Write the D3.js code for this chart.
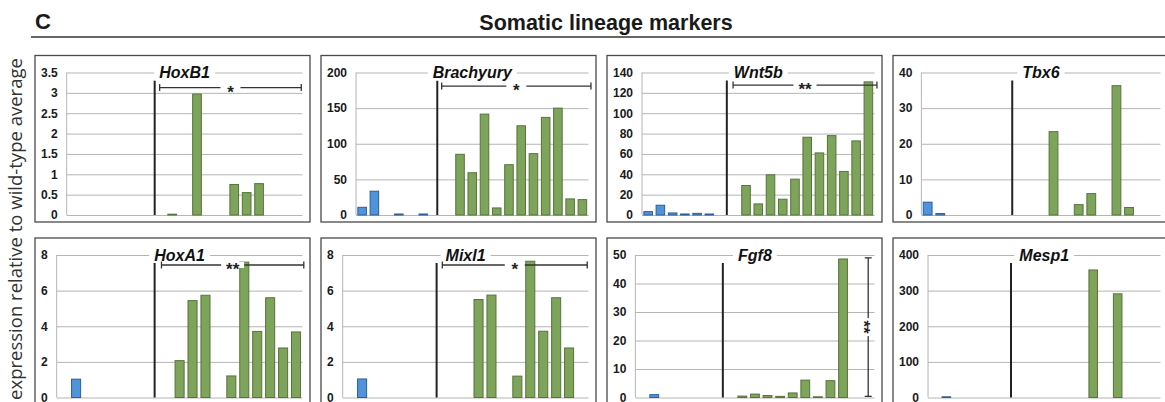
<!DOCTYPE html>
<html><head><meta charset="utf-8">
<script src="https://cdn.jsdelivr.net/npm/d3@7"></script>
<style>body{margin:0;background:#fff;overflow:hidden} svg{display:block}</style>
</head><body>
<svg id="chart" width="1165" height="402"></svg>
<script>
// ---------- data ----------
const samples = ["WT1","WT2","WT3","WT4","WT5","WT6","gap1","gap2",
  "M1","M2","M3","M4","M5","M6","M7","M8","M9","M10","M11"];
const wildTypeCount = 7; // indices below this are wild-type (blue)
const genes = ["HoxB1","Brachyury","Wnt5b","Tbx6","HoxA1","Mixl1","Fgf8","Mesp1"];

const hoxB1     = [0,0,0,0,0,0,0,0, 0.02,0,2.97,0,0,0.75,0.55,0.77,0,0,0];
const brachyury = [10.8,33.4,0,1.4,0,1.4,0,0, 85.2,59.3,141.6,9.9,70.6,125.2,86.1,137,150,22.6,21.6];
const wnt5b     = [3.3,9.6,2,1,1.6,1,0,0, 29,10.9,39.5,15.5,35.2,76.4,61,78,42.8,72.8,130.8];
const tbx6      = [3.6,0.4,0,0,0,0,0,0, 0,0,23.4,0,2.9,6.0,0,36.3,2.1,0,0];
const hoxA1     = [0,1.03,0,0,0,0,0,0, 0,2.07,5.44,5.74,0,1.21,7.6,3.71,5.6,2.78,3.68];
const mixl1     = [0,1.04,0,0,0,0,0,0, 0,0,5.5,5.75,0,1.2,7.65,3.72,5.6,2.78,0];
const fgf8      = [0,1.0,0,0,0,0,0,0, 0.5,1.2,0.7,0.4,1.6,6.1,0.25,5.9,48.6,0,0];
const mesp1     = [0,2,0,0,0,0,0,0, 0,0,0,0,0,358,0,291,0,0,0];
const seriesValues = [hoxB1, brachyury, wnt5b, tbx6, hoxA1, mixl1, fgf8, mesp1];

const yMax  = [3.5, 200, 140, 40, 8, 8, 50, 400];
const yStep = [0.5, 50, 20, 10, 2, 2, 10, 100];

// separator line position, in category units
const separators = [7.09, 6.64, 6.93, 7.22, 7.57, 7.26, 6.95, 6.78];
// significance annotations
const sigLabels = ["*", "*", "**", "", "**", "*", "**", ""];
const sigOrient = ["h", "h", "h", "", "h", "h", "v", ""];
const sigFrom   = [7.49, 7.0, 7.44, 0, 8.1, 7.7, 0.4, 0];    // category units (h) or value (v)
const sigTo     = [18.9, 19.2, 19.2, 0, 19.1, 18.9, 49, 0];
const sigAt     = [3.13, 181, 127.6, 0, 7.44, 7.44, 18.5, 0]; // value (h) or category units (v)

const figLetter = "C";
const figTitle = "Somatic lineage markers";
const yTitle = "expression relative to wild-type average";

// ---------- layout ----------
const svg = d3.select("#chart");
const colLeft = [35, 321, 607, 893], boxW = 275;
const rowTop = [55.5, 238], boxH = 166.5;
const tickFont = "bold 12px 'Liberation Sans', Arial, sans-serif";
const gridColor = "#b5b5b5";
const blueFill = "#4f94da", blueStroke = "#2d5f95";
const greenFill = "#7ea35a", greenStroke = "#55753a";

svg.append("text").attr("x", 35).attr("y", 29)
  .style("font", "bold 22px 'Liberation Sans', Arial, sans-serif").attr("fill", "#1a1a1a")
  .text(figLetter);
svg.append("text").attr("x", 606).attr("y", 30).attr("text-anchor", "middle")
  .style("font", "bold 21.5px 'Liberation Sans', Arial, sans-serif").attr("fill", "#1a1a1a")
  .text(figTitle);
svg.append("line").attr("x1", 31).attr("x2", 1165).attr("y1", 37).attr("y2", 37)
  .attr("stroke", "#333").attr("stroke-width", 1.5);

const yt = svg.append("text").attr("transform", "translate(22,229) rotate(-90)")
  .attr("text-anchor", "middle").attr("fill", "#333")
  .style("font-family", "'Open Sans', 'Noto Sans', sans-serif").style("font-size", "17px")
  .text(yTitle);
const ytLen = yt.node().getComputedTextLength();
yt.style("font-size", (17 * 342 / ytLen) + "px");

genes.forEach((gene, i) => {
  const c = i % 4, r = Math.floor(i / 4);
  const bx = colLeft[c], by = rowTop[r];
  const g = svg.append("g");
  const vals = seriesValues[i];

  const y = d3.scaleLinear().domain([0, yMax[i]]).range([by + 159.5, by + 17]);
  const ticks = d3.range(0, yMax[i] + yStep[i] / 2, yStep[i]);
  const fmt = d3.format("~g");

  // measure tick labels
  let maxW = 0;
  ticks.forEach(t => {
    const tmp = g.append("text").style("font", tickFont).text(fmt(t));
    maxW = Math.max(maxW, tmp.node().getComputedTextLength());
    tmp.remove();
  });
  const left = bx + 6 + maxW + 9;
  const right = bx + 267.5;

  const x = d3.scaleBand().domain(samples).range([left, right])
    .paddingInner(0.3).paddingOuter(0.15);
  const xc = u => left + u * x.step();

  // box
  g.append("rect").attr("x", bx).attr("y", by).attr("width", boxW).attr("height", boxH)
    .attr("fill", "none").attr("stroke", "#4a4a4a").attr("stroke-width", 1.3);

  // gridlines
  const grid = g.append("g").attr("transform", `translate(${left},0)`)
    .call(d3.axisLeft(y).tickValues(ticks).tickSize(-(right - left)).tickFormat(""));
  grid.select(".domain").remove();
  grid.selectAll(".tick line").attr("stroke", gridColor).attr("stroke-width", 1);
  // vertical axis line
  g.append("line").attr("x1", left).attr("x2", left).attr("y1", y(0)).attr("y2", y(yMax[i]))
    .attr("stroke", gridColor);

  // tick labels
  const ax = g.append("g").attr("transform", `translate(${left},0)`)
    .call(d3.axisLeft(y).tickValues(ticks).tickSize(0).tickPadding(9).tickFormat(fmt));
  ax.select(".domain").remove();
  ax.selectAll("text").style("font", tickFont).attr("fill", "#1a1a1a");

  // bars
  g.selectAll("rect.bar").data(samples.map((s, k) => ({ s, k, v: vals[k] })).filter(d => d.v > 0))
    .join("rect").attr("class", "bar")
    .attr("x", d => x(d.s)).attr("width", x.bandwidth())
    .attr("y", d => y(d.v)).attr("height", d => y(0) - y(d.v))
    .attr("fill", d => d.k < wildTypeCount ? blueFill : greenFill)
    .attr("stroke", d => d.k < wildTypeCount ? blueStroke : greenStroke)
    .attr("stroke-width", 1);

  // separator
  g.append("line").attr("x1", xc(separators[i])).attr("x2", xc(separators[i]))
    .attr("y1", y(0)).attr("y2", y(yMax[i]) + 8)
    .attr("stroke", "#222").attr("stroke-width", 2);

  // gene title
  const tt = g.append("text").attr("x", (left + right) / 2).attr("y", y(yMax[i]) + 5.5)
    .attr("text-anchor", "middle")
    .style("font", "italic bold 16px 'Liberation Sans', Arial, sans-serif").attr("fill", "#111")
    .text(gene);
  const tw = tt.node().getComputedTextLength();
  g.insert("rect", () => tt.node())
    .attr("x", (left + right) / 2 - tw / 2 - 5).attr("y", y(yMax[i]) - 8)
    .attr("width", tw + 10).attr("height", 16).attr("fill", "#fff");

  // significance
  if (sigOrient[i]) {
    const sg = g.append("g");
    const lab = sigLabels[i];
    const gap = lab.length === 1 ? 20 : 23;
    const sc = "#333";
    if (sigOrient[i] === "h") {
      const x1 = xc(sigFrom[i]), x2 = xc(sigTo[i]), yy = y(sigAt[i]);
      sg.append("line").attr("x1", x1).attr("x2", x2).attr("y1", yy).attr("y2", yy)
        .attr("stroke", sc).attr("stroke-width", 1.3);
      [x1, x2].forEach(xx => sg.append("line").attr("x1", xx).attr("x2", xx)
        .attr("y1", yy - 3.5).attr("y2", yy + 3.5).attr("stroke", sc).attr("stroke-width", 1.3));
      const mx = (x1 + x2) / 2;
      sg.append("rect").attr("x", mx - gap / 2).attr("y", yy - 3).attr("width", gap)
        .attr("height", 6).attr("fill", "#fff");
      sg.append("text").attr("x", mx).attr("y", yy + 10).attr("text-anchor", "middle")
        .style("font", "bold 17px 'Liberation Sans', Arial, sans-serif").attr("fill", "#222")
        .text(lab);
    } else {
      const xx = xc(sigAt[i]), y1 = y(sigTo[i]), y2 = y(sigFrom[i]);
      sg.append("line").attr("x1", xx).attr("x2", xx).attr("y1", y1).attr("y2", y2)
        .attr("stroke", sc).attr("stroke-width", 1.3);
      [y1, y2].forEach(yy => sg.append("line").attr("x1", xx - 3.5).attr("x2", xx + 3.5)
        .attr("y1", yy).attr("y2", yy).attr("stroke", sc).attr("stroke-width", 1.3));
      const my = (y1 + y2) / 2;
      sg.append("rect").attr("x", xx - 3).attr("y", my - 9).attr("width", 6)
        .attr("height", 18).attr("fill", "#fff");
      sg.append("text").attr("transform", `translate(${xx},${my}) rotate(90)`)
        .attr("y", 10).attr("text-anchor", "middle")
        .style("font", "bold 17px 'Liberation Sans', Arial, sans-serif").attr("fill", "#222")
        .text(lab);
    }
  }
});
</script>
</body></html>
